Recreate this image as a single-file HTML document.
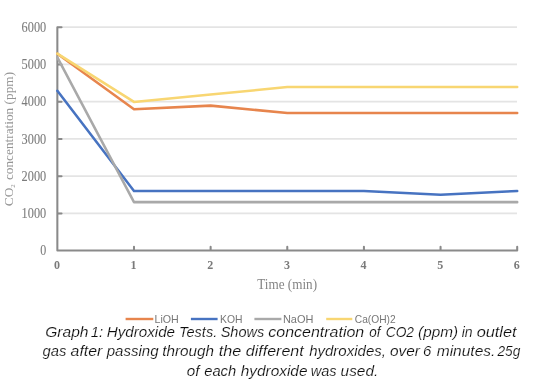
<!DOCTYPE html>
<html><head><meta charset="utf-8"><style>
html,body{margin:0;padding:0;background:#fff;}
body{width:540px;height:382px;overflow:hidden;position:relative;}
svg{position:absolute;left:0;top:0;}
#chart{filter:blur(0.5px);} #cap{filter:blur(0.2px);}
.yl{font-family:"Liberation Serif",serif;font-size:14.5px;fill:#7c7c7c;stroke:#7c7c7c;stroke-width:0.1px;}
.xl{font-family:"Liberation Serif",serif;font-size:12px;font-weight:bold;fill:#7a7a7a;}
.tt{font-family:"Liberation Serif",serif;font-size:13.3px;fill:#959595;}
.tt2{font-family:"Liberation Serif",serif;font-size:14.4px;fill:#858585;}
.lg{font-family:"Liberation Sans",sans-serif;font-size:10.5px;fill:#777;}
.cap{font-family:"Liberation Sans",sans-serif;font-size:14px;font-style:italic;fill:#0d0d0d;stroke:#fff;stroke-width:0.16px;}
</style></head><body>
<svg id="chart" width="540" height="382" viewBox="0 0 540 382">
<line x1="57" y1="213.40" x2="517" y2="213.40" stroke="#e4e4e4" stroke-width="1.6"/>
<line x1="57" y1="176.15" x2="517" y2="176.15" stroke="#e4e4e4" stroke-width="1.6"/>
<line x1="57" y1="138.90" x2="517" y2="138.90" stroke="#e4e4e4" stroke-width="1.6"/>
<line x1="57" y1="101.65" x2="517" y2="101.65" stroke="#e4e4e4" stroke-width="1.6"/>
<line x1="57" y1="64.40" x2="517" y2="64.40" stroke="#e4e4e4" stroke-width="1.6"/>
<line x1="57" y1="27.15" x2="517" y2="27.15" stroke="#e4e4e4" stroke-width="1.6"/>
<text x="40.20" y="255.25" class="yl" textLength="6.0" lengthAdjust="spacingAndGlyphs">0</text>
<text x="21.60" y="218.00" class="yl" textLength="24.6" lengthAdjust="spacingAndGlyphs">1000</text>
<text x="21.60" y="180.75" class="yl" textLength="24.6" lengthAdjust="spacingAndGlyphs">2000</text>
<text x="21.60" y="143.50" class="yl" textLength="24.6" lengthAdjust="spacingAndGlyphs">3000</text>
<text x="21.60" y="106.25" class="yl" textLength="24.6" lengthAdjust="spacingAndGlyphs">4000</text>
<text x="21.60" y="69.00" class="yl" textLength="24.6" lengthAdjust="spacingAndGlyphs">5000</text>
<text x="21.60" y="31.75" class="yl" textLength="24.6" lengthAdjust="spacingAndGlyphs">6000</text>
<path d="M57.35,27.15 L57.35,250.55 L517.20,250.55 L517.20,246.65 M57.35,213.40 h4.2 M57.35,176.15 h4.2 M57.35,138.90 h4.2 M57.35,101.65 h4.2 M57.35,64.40 h4.2 M57.35,27.15 h4.2 M133.99,250.55 v-3.9 M210.63,250.55 v-3.9 M287.28,250.55 v-3.9 M363.92,250.55 v-3.9 M440.56,250.55 v-3.9 " fill="none" stroke="#8a8a8a" stroke-width="2.05" stroke-linecap="round" stroke-linejoin="round"/>
<text x="56.95" y="268.8" text-anchor="middle" class="xl">0</text>
<text x="133.59" y="268.8" text-anchor="middle" class="xl">1</text>
<text x="210.23" y="268.8" text-anchor="middle" class="xl">2</text>
<text x="286.88" y="268.8" text-anchor="middle" class="xl">3</text>
<text x="363.52" y="268.8" text-anchor="middle" class="xl">4</text>
<text x="440.16" y="268.8" text-anchor="middle" class="xl">5</text>
<text x="516.80" y="268.8" text-anchor="middle" class="xl">6</text>
<polyline points="57.35,53.66 133.99,109.34 210.63,105.63 287.28,113.06 363.92,113.06 440.56,113.06 517.20,113.06" fill="none" stroke="#E7854D" stroke-width="2.55" stroke-linejoin="round" stroke-linecap="round"/>
<polyline points="57.35,90.78 133.99,191.01 210.63,191.01 287.28,191.01 363.92,191.01 440.56,194.72 517.20,191.01" fill="none" stroke="#4773C1" stroke-width="2.55" stroke-linejoin="round" stroke-linecap="round"/>
<polyline points="57.35,57.38 133.99,202.14 210.63,202.14 287.28,202.14 363.92,202.14 440.56,202.14 517.20,202.14" fill="none" stroke="#A9A9A9" stroke-width="2.55" stroke-linejoin="round" stroke-linecap="round"/>
<polyline points="57.35,53.66 133.99,101.92 210.63,94.50 287.28,87.07 363.92,87.07 440.56,87.07 517.20,87.07" fill="none" stroke="#F8D672" stroke-width="2.55" stroke-linejoin="round" stroke-linecap="round"/>
<text x="257.2" y="288.6" class="tt2" textLength="59.9" lengthAdjust="spacingAndGlyphs">Time (min)</text>
<g transform="translate(12.6,206.2) rotate(-90)"><text x="0" y="0" class="tt">CO<tspan font-size="7" dy="2.6">2</tspan><tspan dy="-2.6" dx="0.8"> concentration (ppm)</tspan></text></g>
<line x1="125.6" y1="319" x2="153.3" y2="319" stroke="#E7854D" stroke-width="2.4"/>
<text x="154.49" y="322.8" class="lg" textLength="24.26" lengthAdjust="spacingAndGlyphs">LiOH</text>
<line x1="190.9" y1="319" x2="217.6" y2="319" stroke="#4773C1" stroke-width="2.4"/>
<text x="220.01" y="322.8" class="lg" textLength="22.44" lengthAdjust="spacingAndGlyphs">KOH</text>
<line x1="254.4" y1="319" x2="281.4" y2="319" stroke="#A9A9A9" stroke-width="2.4"/>
<text x="282.96" y="322.8" class="lg" textLength="30.48" lengthAdjust="spacingAndGlyphs">NaOH</text>
<line x1="326.2" y1="319" x2="352.3" y2="319" stroke="#F8D672" stroke-width="2.4"/>
<text x="354.8" y="322.8" class="lg" textLength="40.82" lengthAdjust="spacingAndGlyphs">Ca(OH)2</text>
</svg>
<svg id="cap" width="540" height="382" viewBox="0 0 540 382">
<text x="45.19" y="336.7" class="cap" textLength="43.34" lengthAdjust="spacingAndGlyphs">Graph</text>
<text x="90.8" y="336.7" class="cap" textLength="12.43" lengthAdjust="spacingAndGlyphs">1:</text>
<text x="106.7" y="336.7" class="cap" textLength="68.33" lengthAdjust="spacingAndGlyphs">Hydroxide</text>
<text x="178.96" y="336.7" class="cap" textLength="38.25" lengthAdjust="spacingAndGlyphs">Tests.</text>
<text x="220.66" y="336.7" class="cap" textLength="43.57" lengthAdjust="spacingAndGlyphs">Shows</text>
<text x="268.3" y="336.7" class="cap" textLength="95.97" lengthAdjust="spacingAndGlyphs">concentration</text>
<text x="369.2" y="336.7" class="cap" textLength="11.24" lengthAdjust="spacingAndGlyphs">of</text>
<text x="385.72" y="336.7" class="cap" textLength="28.28" lengthAdjust="spacingAndGlyphs">CO2</text>
<text x="418.11" y="336.7" class="cap" textLength="40.01" lengthAdjust="spacingAndGlyphs">(ppm)</text>
<text x="461.7" y="336.7" class="cap" textLength="10.91" lengthAdjust="spacingAndGlyphs">in</text>
<text x="476.7" y="336.7" class="cap" textLength="39.93" lengthAdjust="spacingAndGlyphs">outlet</text>
<text x="42.5" y="356.1" class="cap" textLength="23.91" lengthAdjust="spacingAndGlyphs">gas</text>
<text x="70.6" y="356.1" class="cap" textLength="31.69" lengthAdjust="spacingAndGlyphs">after</text>
<text x="106.7" y="356.1" class="cap" textLength="51.89" lengthAdjust="spacingAndGlyphs">passing</text>
<text x="162.21" y="356.1" class="cap" textLength="51.82" lengthAdjust="spacingAndGlyphs">through</text>
<text x="218.84" y="356.1" class="cap" textLength="22.5" lengthAdjust="spacingAndGlyphs">the</text>
<text x="245.8" y="356.1" class="cap" textLength="57.93" lengthAdjust="spacingAndGlyphs">different</text>
<text x="309.2" y="356.1" class="cap" textLength="76.71" lengthAdjust="spacingAndGlyphs">hydroxides,</text>
<text x="390.0" y="356.1" class="cap" textLength="29.96" lengthAdjust="spacingAndGlyphs">over</text>
<text x="423.13" y="356.1" class="cap" textLength="8.35" lengthAdjust="spacingAndGlyphs">6</text>
<text x="436.7" y="356.1" class="cap" textLength="58.73" lengthAdjust="spacingAndGlyphs">minutes.</text>
<text x="497.5" y="356.1" class="cap" textLength="22.85" lengthAdjust="spacingAndGlyphs">25g</text>
<text x="186.7" y="375.8" class="cap" textLength="12.68" lengthAdjust="spacingAndGlyphs">of</text>
<text x="204.2" y="375.8" class="cap" textLength="31.98" lengthAdjust="spacingAndGlyphs">each</text>
<text x="240.8" y="375.8" class="cap" textLength="66.67" lengthAdjust="spacingAndGlyphs">hydroxide</text>
<text x="310.66" y="375.8" class="cap" textLength="25.94" lengthAdjust="spacingAndGlyphs">was</text>
<text x="340.6" y="375.8" class="cap" textLength="37.68" lengthAdjust="spacingAndGlyphs">used.</text>
</svg>
</body></html>
